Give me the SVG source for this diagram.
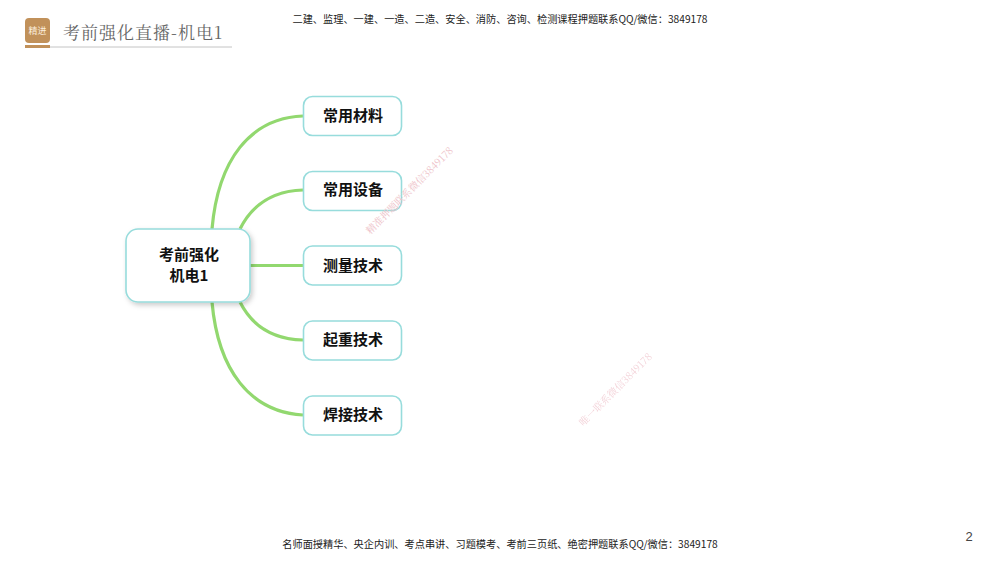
<svg xmlns="http://www.w3.org/2000/svg" width="1000" height="562" viewBox="0 0 1000 562">
<style>
text{font-family:"Noto Sans CJK SC","Liberation Sans",sans-serif;}
.n{fill:#fff;stroke:#97dcdc;stroke-width:1.6;}
.t{font-size:15px;font-weight:700;fill:#111;text-anchor:middle;}
.c{fill:none;stroke:#92d86f;stroke-width:3.2;stroke-linecap:butt;}
.b{font-size:10.200px;fill:#222;text-anchor:middle;}
.w{font-family:"Noto Serif CJK SC","Noto Sans CJK SC",serif;font-size:10px;fill:#eebfc8;text-anchor:middle;}
</style>
<defs><filter id="s" x="-10%" y="-10%" width="125%" height="130%"><feDropShadow dx="2" dy="2.500" stdDeviation="2.500" flood-color="#000" flood-opacity="0.2"/></filter></defs>
<rect width="1000" height="562" fill="#fff"/>
<g id="header">
<rect x="25" y="18" width="25" height="25" rx="4" fill="#c1915a"/>
<rect x="25" y="45" width="25" height="3" fill="#c1915a"/>
<line x1="50" y1="47" x2="232" y2="47" stroke="#c4c4c4" stroke-width="1"/>
<text x="37.500" y="34" font-size="9" fill="#fbeedd" text-anchor="middle">精进</text>
<text x="63" y="39" font-size="17" fill="#666" letter-spacing="1" style="font-family:'Noto Serif CJK SC','Noto Sans CJK SC',serif">考前强化直播-机电1</text>
</g>
<text class="b" x="500" y="23">二建、监理、一建、一造、二造、安全、消防、咨询、检测课程押题联系QQ/微信：3849178</text>
<g id="connectors">
<path class="c" d="M212 229C218 160 250 118 303 116"/>
<path class="c" d="M240 229C252 205 272 191 303 190"/>
<path class="c" d="M250 265.500H303"/>
<path class="c" d="M240 302C252 326 272 339 303 340"/>
<path class="c" d="M212 302C218 370 250 412 303 415"/>
</g>
<g id="root"><rect class="n" x="126" y="229" width="124" height="73" rx="12" filter="url(#s)"/>
<text class="t" x="189" y="259.500">考前强化</text><text class="t" x="189" y="281">机电1</text></g>
<g id="n1"><rect class="n" x="303.500" y="96.500" width="98" height="39" rx="9"/><text class="t" x="353" y="121">常用材料</text></g>
<g id="n2"><rect class="n" x="303.500" y="171.500" width="98" height="39" rx="9"/><text class="t" x="353" y="195">常用设备</text></g>
<g id="n3"><rect class="n" x="303.500" y="246" width="98" height="39" rx="9"/><text class="t" x="353" y="270.500">测量技术</text></g>
<g id="n4"><rect class="n" x="303.500" y="321" width="98" height="39" rx="9"/><text class="t" x="353" y="345">起重技术</text></g>
<g id="n5"><rect class="n" x="303.500" y="396" width="98" height="39" rx="9"/><text class="t" x="353" y="419.500">焊接技术</text></g>
<text class="w" transform="translate(412 193) rotate(-45)">精准押题联系微信3849178</text>
<text class="w" transform="translate(618 392) rotate(-45)" opacity="0.7">唯一联系微信3849178</text>
<text class="b" x="500" y="548">名师面授精华、央企内训、考点串讲、习题模考、考前三页纸、绝密押题联系QQ/微信：3849178</text>
<text x="969" y="541" font-size="13" fill="#444" text-anchor="middle" style="font-family:'Liberation Sans',sans-serif">2</text>
</svg>
